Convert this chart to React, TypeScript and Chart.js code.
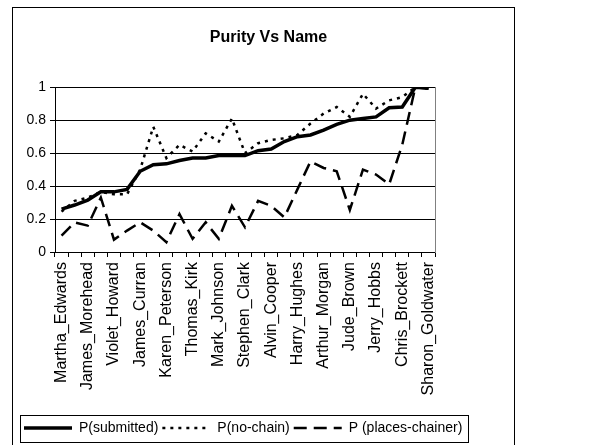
import React, { useEffect, useRef } from "react";
import { Chart, registerables } from "chart.js";

Chart.register(...registerables);

const chartTitle = "Purity Vs Name";

// 29 categories; only every other name is printed on the axis
const categories = [
  "Martha_Edwards", "", "James_Morehead", "", "Violet_Howard", "", "James_Curran", "",
  "Karen_Peterson", "", "Thomas_Kirk", "", "Mark_Johnson", "", "Stephen_Clark", "",
  "Alvin_Cooper", "", "Harry_Hughes", "", "Arthur_Morgan", "", "Jude_Brown", "",
  "Jerry_Hobbs", "", "Chris_Brockett", "", "Sharon_Goldwater",
];

const pSubmitted = [
  0.26, 0.285, 0.315, 0.365, 0.365, 0.38, 0.49, 0.53, 0.535, 0.555, 0.57, 0.57, 0.585, 0.585,
  0.585, 0.615, 0.625, 0.67, 0.7, 0.71, 0.74, 0.775, 0.8, 0.81, 0.82, 0.875, 0.88, 1.0, 0.995,
];

const pNoChain = [
  0.245, 0.31, 0.33, 0.365, 0.35, 0.35, 0.5, 0.76, 0.57, 0.65, 0.61, 0.72, 0.67, 0.81,
  0.6, 0.66, 0.68, 0.69, 0.71, 0.78, 0.84, 0.88, 0.82, 0.96, 0.87, 0.92, 0.94, 1.0, 0.99,
];

const pPlacesChainer = [
  0.1, 0.18, 0.16, 0.33, 0.075, 0.13, 0.18, 0.13, 0.06, 0.23, 0.08, 0.18, 0.08, 0.28,
  0.15, 0.31, 0.28, 0.21, 0.38, 0.55, 0.51, 0.49, 0.255, 0.5, 0.47, 0.41, 0.65, 1.0, 0.99,
];

const seriesNames = ["P(submitted)", "P(no-chain)", "P (places-chainer)"];

const FONT = "'Liberation Sans', Arial, sans-serif";

const framePlugin = {
  id: "excelFrame",
  beforeDraw(chart: any) {
    const ctx = chart.ctx;
    ctx.save();
    ctx.fillStyle = "#ffffff";
    ctx.fillRect(0, 0, chart.width, chart.height);
    ctx.strokeStyle = "#000000";
    ctx.lineWidth = 1;
    ctx.strokeRect(12.5, 7.5, 502, 470);
    ctx.restore();
  },
  afterDraw(chart: any) {
    const lg = chart.legend;
    if (!lg || !lg.legendHitBoxes || !lg.legendHitBoxes.length) return;
    const hb = lg.legendHitBoxes;
    let left = Infinity, right = -Infinity, top = Infinity, bottom = -Infinity;
    hb.forEach((b: any) => {
      left = Math.min(left, b.left);
      right = Math.max(right, b.left + b.width);
      top = Math.min(top, b.top);
      bottom = Math.max(bottom, b.top + b.height);
    });
    const ctx = chart.ctx;
    ctx.save();
    ctx.strokeStyle = "#000000";
    ctx.lineWidth = 1;
    const x0 = Math.round(left - 4) + 0.5;
    const y0 = Math.round(top - 6) + 0.5;
    const x1 = Math.round(right + 6) + 0.5;
    const y1 = Math.round(bottom + 7) + 0.5;
    ctx.strokeRect(x0, y0, x1 - x0, y1 - y0);
    ctx.restore();
  },
};

export default function App() {
  const canvasRef = useRef<HTMLCanvasElement | null>(null);

  useEffect(() => {
    if (!canvasRef.current) return;
    const chart = new Chart(canvasRef.current, {
      type: "line",
      data: {
        labels: categories,
        datasets: [
          {
            label: seriesNames[0],
            data: pSubmitted,
            borderColor: "#000000",
            backgroundColor: "#000000",
            borderWidth: 3.5,
            borderDash: [],
            pointRadius: 0,
            tension: 0,
          },
          {
            label: seriesNames[1],
            data: pNoChain,
            borderColor: "#000000",
            backgroundColor: "#000000",
            borderWidth: 2.5,
            borderDash: [3, 5],
            pointRadius: 0,
            tension: 0,
          },
          {
            label: seriesNames[2],
            data: pPlacesChainer,
            borderColor: "#000000",
            backgroundColor: "#000000",
            borderWidth: 2.5,
            borderDash: [13, 7],
            pointRadius: 0,
            tension: 0,
          },
        ],
      },
      options: {
        responsive: false,
        animation: false,
        devicePixelRatio: 1,
        layout: { padding: { left: 20, right: 82, top: 0, bottom: 0 } },
        plugins: {
          title: {
            display: true,
            text: chartTitle,
            color: "#000000",
            font: { family: FONT, size: 16, weight: "bold" },
            padding: { top: 28, bottom: 40 },
          },
          legend: {
            display: true,
            position: "bottom",
            align: "start",
            labels: {
              color: "#000000",
              font: { family: FONT, size: 14 },
              usePointStyle: true,
              pointStyle: "line",
              pointStyleWidth: 48,
              padding: 4,
              generateLabels: (ch: any) => {
                const items = Chart.defaults.plugins.legend.labels.generateLabels(ch);
                return items.map((it: any) => {
                  const ds = ch.data.datasets[it.datasetIndex];
                  return {
                    ...it,
                    lineDash: ds.borderDash || [],
                    lineWidth: ds.borderWidth,
                    strokeStyle: ds.borderColor,
                    fillStyle: ds.borderColor,
                    pointStyle: "line",
                  };
                });
              },
            },
          },
          tooltip: { enabled: false },
        },
        scales: {
          x: {
            type: "category",
            offset: true,
            grid: {
              display: true,
              drawOnChartArea: false,
              drawTicks: true,
              tickLength: 5,
              color: "#000000",
              offset: true,
            },
            border: { display: true, color: "#000000", width: 1 },
            ticks: {
              autoSkip: false,
              minRotation: 90,
              maxRotation: 90,
              padding: 5,
              color: "#000000",
              font: { family: FONT, size: 16 },
            },
            afterFit: (s: any) => {
              s.height = 165;
            },
          },
          y: {
            min: 0,
            max: 1,
            position: "left",
            ticks: {
              stepSize: 0.2,
              padding: 4,
              color: "#000000",
              font: { family: FONT, size: 14 },
              callback: (v: any) => String(Math.round(Number(v) * 10) / 10),
            },
            grid: {
              display: true,
              drawTicks: true,
              tickLength: 5,
              color: "#000000",
              lineWidth: 1,
            },
            border: { display: true, color: "#000000", width: 1 },
            afterFit: (s: any) => {
              s.width = 35;
            },
          },
          y2: {
            type: "linear",
            position: "right",
            min: 0,
            max: 1,
            ticks: { display: false },
            grid: { display: false, drawOnChartArea: false, drawTicks: false },
            border: { display: true, color: "#808080", width: 1 },
            afterFit: (s: any) => {
              s.width = 82;
            },
          },
        },
      },
      plugins: [framePlugin],
    } as any);
    return () => chart.destroy();
  }, []);

  return (
    <div style={{ position: "absolute", left: 0, top: 0, width: 599, height: 445 }}>
      <canvas ref={canvasRef} width={599} height={445} />
    </div>
  );
}
